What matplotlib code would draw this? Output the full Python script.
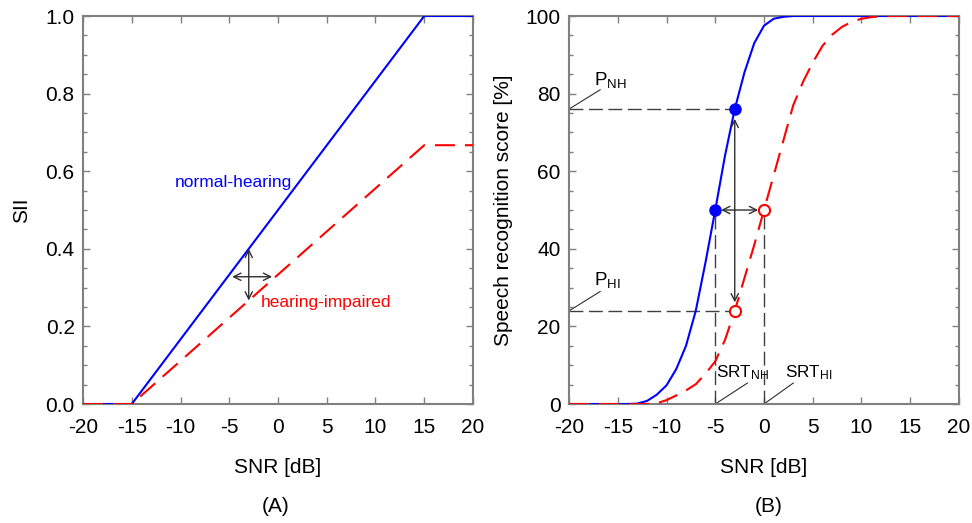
import matplotlib
matplotlib.use("Agg")
import matplotlib.pyplot as plt
from matplotlib.ticker import MultipleLocator, FormatStrFormatter

plt.rcParams["font.family"] = ["Liberation Sans", "DejaVu Sans"]
plt.rcParams["mathtext.default"] = "regular"
plt.rcParams["axes.unicode_minus"] = False

# panel A: speech intelligibility index vs SNR
sii_snr = [-20, -15, 15, 20]
sii_nh = [0.0, 0.0, 1.0, 1.0]
sii_hi = [0.0, 0.0, 0.667, 0.667]

# panel B: psychometric functions
snr_db = list(range(-20, 21))
score_nh = [0, 0, 0, 0, 0, 0, 0, 0.1, 0.8, 2.4, 4.8, 9, 15, 24, 36.5, 50,
            64, 76, 85.5, 93, 97.5, 99.3, 99.8, 100, 100, 100, 100, 100,
            100, 100, 100, 100, 100, 100, 100, 100, 100, 100, 100, 100, 100]
score_hi = [0, 0, 0, 0, 0, 0, 0, 0, 0, 0.2, 1.0, 2.2, 3.5, 5.1, 7.8, 11,
            16.5, 24, 32.5, 41, 50, 59, 68, 77, 83, 88, 92.3, 95.2, 97.2,
            98.5, 99.3, 99.7, 99.9, 100, 100, 100, 100, 100, 100, 100, 100]

srt_nh, srt_hi = -5, 0
snr_probe = -3
p_nh, p_hi = 76, 24

BLUE = "#0000ff"
RED = "#ff0000"
GRAY = "#808080"
DARK = "#303030"
RED_DASH = (0, (9.6, 4.8))
REF_DASH = (0, (10, 4))
FS = 15


def style_axes(ax, ymax, ymajor, yminor, yfmt):
    ax.set_xlim(-20, 20)
    ax.set_ylim(0, ymax)
    ax.xaxis.set_major_locator(MultipleLocator(5))
    ax.yaxis.set_major_locator(MultipleLocator(ymajor))
    ax.yaxis.set_minor_locator(MultipleLocator(yminor))
    ax.yaxis.set_major_formatter(FormatStrFormatter(yfmt))
    ax.tick_params(which="both", direction="in", top=True, right=True,
                   color=GRAY, labelsize=FS)
    ax.tick_params(axis="y", pad=6)
    ax.tick_params(axis="x", pad=10)
    ax.tick_params(which="major", length=5, width=1)
    ax.tick_params(which="minor", length=3, width=1)
    ax.tick_params(axis="x", which="minor", top=False, bottom=False)
    for s in ax.spines.values():
        s.set_color(GRAY)
        s.set_linewidth(1.5)
    ax.set_xlabel("SNR [dB]", fontsize=FS, labelpad=15)


fig = plt.figure(figsize=(9.72, 5.23), dpi=100)
axA = fig.add_axes([0.0854, 0.2275, 0.4012, 0.7419])
axB = fig.add_axes([0.5854, 0.2275, 0.4012, 0.7419])

# --- (A) SII ---
axA.plot(sii_snr, sii_nh, color=BLUE, lw=1.5, zorder=3)
axA.plot(sii_snr, sii_hi, color=RED, lw=1.5, linestyle=RED_DASH, zorder=4)
arrow = dict(arrowstyle="<->", color=DARK, lw=1, shrinkA=0, shrinkB=0,
             mutation_scale=13)
y_nh = sii_nh[1] + (snr_probe - sii_snr[1]) * (sii_nh[2] - sii_nh[1]) / (sii_snr[2] - sii_snr[1])
y_hi = sii_hi[1] + (snr_probe - sii_snr[1]) * (sii_hi[2] - sii_hi[1]) / (sii_snr[2] - sii_snr[1])
axA.annotate("", xy=(snr_probe, y_hi), xytext=(snr_probe, y_nh), arrowprops=arrow)
axA.annotate("", xy=(-0.6, 0.328), xytext=(-4.7, 0.328), arrowprops=arrow)
axA.text(-10.6, 0.57, "normal-hearing", color=BLUE, fontsize=12.5, va="center")
axA.text(-1.8, 0.262, "hearing-impaired", color=RED, fontsize=12.5, va="center")
style_axes(axA, 1.0, 0.2, 0.05, "%.1f")
axA.set_ylabel("SII", fontsize=FS, labelpad=10)

# --- (B) psychometric functions ---
axB.plot(snr_db, score_nh, color=BLUE, lw=1.5, zorder=3)
axB.plot(snr_db, score_hi, color=RED, lw=1.5, linestyle=RED_DASH, zorder=4)

ref = dict(color="#404040", lw=1, linestyle=REF_DASH, zorder=2)
axB.plot([-20, snr_probe], [p_nh, p_nh], **ref)
axB.plot([-20, snr_probe], [p_hi, p_hi], **ref)
axB.plot([srt_nh, srt_nh], [0, 50], **ref)
axB.plot([srt_hi, srt_hi], [0, 50], **ref)

axB.annotate("", xy=(snr_probe, p_hi + 2.2), xytext=(snr_probe, p_nh - 2.5),
             arrowprops=arrow, zorder=5)
axB.annotate("", xy=(srt_hi - 0.6, 50), xytext=(srt_nh + 0.6, 50),
             arrowprops=arrow, zorder=5)

axB.plot([srt_nh, snr_probe], [50, p_nh], "o", color=BLUE, ms=8, zorder=6)
axB.plot([srt_hi, snr_probe], [50, p_hi], "o", mfc="white", mec=RED,
         mew=1.5, ms=8, zorder=6)

# leader lines and labels
lead = dict(color="#303030", lw=0.8, zorder=2)
axB.plot([-20, -16.8], [p_nh, p_nh + 5], **lead)
axB.plot([-20, -16.8], [p_hi, p_hi + 5], **lead)
axB.plot([srt_nh, srt_nh + 3.3], [0, 5.4], **lead)
axB.plot([srt_hi, srt_hi + 3.0], [0, 5.4], **lead)
axB.text(-17.4, 81, "P$_{NH}$", fontsize=13.5, va="bottom")
axB.text(-17.4, 29.5, "P$_{HI}$", fontsize=13.5, va="bottom")
axB.text(-4.95, 5.8, "SRT$_{NH}$", fontsize=12.3, va="bottom")
axB.text(2.2, 5.8, "SRT$_{HI}$", fontsize=12.3, va="bottom")

style_axes(axB, 100, 20, 5, "%.0f")
axB.set_ylabel("Speech recognition score [%]", fontsize=FS, labelpad=9)

fig.text(0.284, 0.031, "(A)", fontsize=FS, ha="center", va="center")
fig.text(0.791, 0.031, "(B)", fontsize=FS, ha="center", va="center")

fig.savefig("out.png", dpi=100)
